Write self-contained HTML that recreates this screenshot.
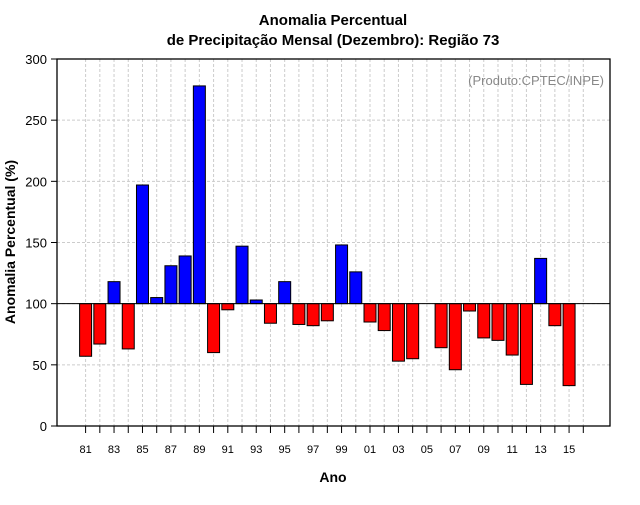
<!DOCTYPE html>
<html><head><meta charset="utf-8"><style>
body{margin:0;background:#fff}
svg text{font-family:"Liberation Sans",Arial,sans-serif}
</style></head><body>
<svg id="chart" width="640" height="500" xmlns="http://www.w3.org/2000/svg">
<rect width="640" height="500" fill="#fff"/>
<text x="333" y="25" text-anchor="middle" font-size="15" font-weight="bold">Anomalia Percentual</text>
<text x="333" y="45" text-anchor="middle" font-size="15" font-weight="bold">de Precipitação Mensal (Dezembro): Região 73</text>
<g id="grid"></g>
<g id="bars"></g>
<g id="axes"></g>
<text x="604" y="85" text-anchor="end" font-size="13" fill="#888">(Produto:CPTEC/INPE)</text>
<text x="333" y="482" text-anchor="middle" font-size="14" font-weight="bold">Ano</text>
<text transform="translate(15,242) rotate(-90)" text-anchor="middle" font-size="14" font-weight="bold">Anomalia Percentual (%)</text>
</svg>
<script>
const years=[1981,1982,1983,1984,1985,1986,1987,1988,1989,1990,1991,1992,1993,1994,1995,1996,1997,1998,1999,2000,2001,2002,2003,2004,2005,2006,2007,2008,2009,2010,2011,2012,2013,2014,2015,2016];
const values=[57,67,118,63,197,105,131,139,278,60,95,147,103,84,118,83,82,86,148,126,85,78,53,55,100,64,46,94,72,70,58,34,137,82,33,null];
const yTicks=[0,50,100,150,200,250,300];
const NS="http://www.w3.org/2000/svg";
const L=57,R=610,T=59,B=426;
const y=v=>B-(v/300)*(B-T);
const x=yr=>85.6+(yr-1981)*14.22;
const mk=(t,a,p)=>{const e=document.createElementNS(NS,t);for(const k in a)e.setAttribute(k,a[k]);p.appendChild(e);return e;};
const grid=document.getElementById('grid'),bars=document.getElementById('bars'),axes=document.getElementById('axes');
yTicks.forEach(v=>{
  if(v>0&&v<300){const g=mk('line',{x1:L,x2:R,y1:y(v),y2:y(v),stroke:'#ccc','stroke-dasharray':'3,2'},grid);
  
  }
  const tk=mk('line',{x1:L-6,x2:L,y1:y(v),y2:y(v),stroke:'#000'},axes);
  
  
  const t=mk('text',{x:L-10,y:y(v)+5,'text-anchor':'end','font-size':'13'},axes);
  
  
  t.textContent=v;
});
years.forEach((yr,i)=>{
  const g=mk('line',{x1:x(yr),x2:x(yr),y1:T,y2:B,stroke:'#ccc','stroke-dasharray':'3,2'},grid);
  
  
  const tk=mk('line',{x1:x(yr),x2:x(yr),y1:B,y2:B+7,stroke:'#000'},axes);
  
  
  if(i%2===0&&yr<2016){const t=mk('text',{x:x(yr),y:B+27,'text-anchor':'middle','font-size':'11'},axes);
    
    
    t.textContent=String(yr).slice(2);}
  const v=values[i];
  if(v!==null&&v!==100){
    const top=Math.min(y(v),y(100)),h=Math.abs(y(v)-y(100));
    const b=mk('rect',{x:x(yr)-6,y:top,width:12,height:h,fill:v>100?'#0000ff':'#ff0000',stroke:'#000','stroke-width':1},bars);
    
    
  }
});
const ref=mk('line',{x1:L,x2:R,y1:y(100),y2:y(100),stroke:'#000'},axes);


const box=mk('rect',{x:L,y:T,width:R-L,height:B-T,fill:'none',stroke:'#000','stroke-width':1.3},axes);


</script>
</body></html>
